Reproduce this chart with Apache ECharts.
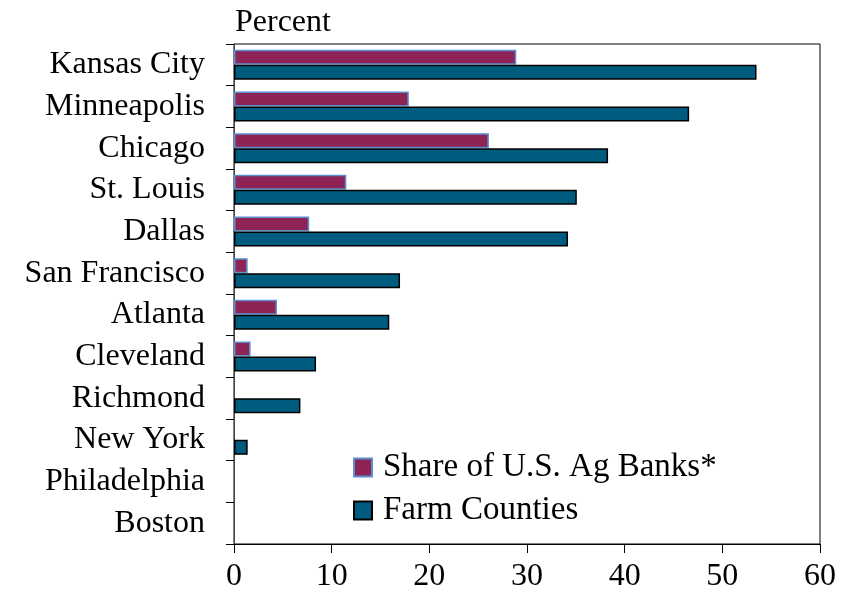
<!DOCTYPE html>
<html>
<head>
<meta charset="utf-8">
<script src="https://cdn.jsdelivr.net/npm/echarts@6/dist/echarts.min.js"></script>
<style>
  html, body { margin: 0; padding: 0; background: #fff; }
  #main { width: 846px; height: 594px; }
</style>
</head>
<body>
<div id="main"></div>
<script>
// districts, top to bottom
var districts = ['Kansas City', 'Minneapolis', 'Chicago', 'St. Louis', 'Dallas', 'San Francisco',
  'Atlanta', 'Cleveland', 'Richmond', 'New York', 'Philadelphia', 'Boston'];
var agBankShare = [28.9, 17.9, 26.1, 11.5, 7.7, 1.4, 4.4, 1.7, 0, 0, 0, 0];
var farmCounties = [53.5, 46.6, 38.3, 35.1, 34.2, 17.0, 15.9, 8.4, 6.8, 1.4, 0, 0];
var xTicks = [0, 10, 20, 30, 40, 50, 60];

var serif = '"Liberation Serif", "DejaVu Serif", serif';

// zero bars get no outline, so nothing shows for them
function barData (arr) {
  return arr.map(function (v) {
    return v === 0 ? { value: v, itemStyle: { borderWidth: 0 } } : v;
  });
}

var myChart = echarts.init(document.getElementById('main'));
myChart.setOption({
  animation: false,
  textStyle: { fontFamily: serif, color: '#000' },
  title: {
    text: 'Percent',
    left: 230,
    top: 2,
    textStyle: { fontFamily: serif, fontSize: 32, fontWeight: 'normal', color: '#000' }
  },
  grid: {
    left: 234,
    right: 26,
    top: 44,
    bottom: 50,
    show: true,
    borderColor: '#000',
    borderWidth: 1
  },
  legend: {
    orient: 'vertical',
    left: 348,
    top: 446,
    icon: 'rect',
    itemWidth: 18,
    itemHeight: 18,
    itemGap: 10,
    textStyle: { fontFamily: serif, fontSize: 33, color: '#000', padding: [0, 0, 0, 6] },
    data: ['Share of U.S. Ag Banks*', 'Farm Counties']
  },
  xAxis: {
    type: 'value',
    min: xTicks[0],
    max: xTicks[xTicks.length - 1],
    interval: 10,
    splitLine: { show: false },
    axisLine: { show: true, lineStyle: { color: '#000', width: 1 } },
    axisTick: { show: true, length: 9, lineStyle: { color: '#000' } },
    axisLabel: { margin: 17, fontFamily: serif, fontSize: 32, color: '#000' }
  },
  yAxis: {
    type: 'category',
    inverse: true,
    data: districts,
    axisLine: { show: true, lineStyle: { color: '#444', width: 1 } },
    axisTick: { show: true, length: 8, lineStyle: { color: '#000' } },
    axisLabel: { margin: 29, fontFamily: serif, fontSize: 32, color: '#000' }
  },
  series: [{
    name: 'Share of U.S. Ag Banks*',
    type: 'bar',
    data: barData(agBankShare),
    barWidth: 15,
    barGap: 0,
    itemStyle: { color: '#8e2356', borderColor: '#5b8fcf', borderWidth: 1.5 }
  }, {
    name: 'Farm Counties',
    type: 'bar',
    data: barData(farmCounties),
    barWidth: 15,
    itemStyle: { color: '#005c7e', borderColor: '#000', borderWidth: 1.5 }
  }]
});
</script>
</body>
</html>
